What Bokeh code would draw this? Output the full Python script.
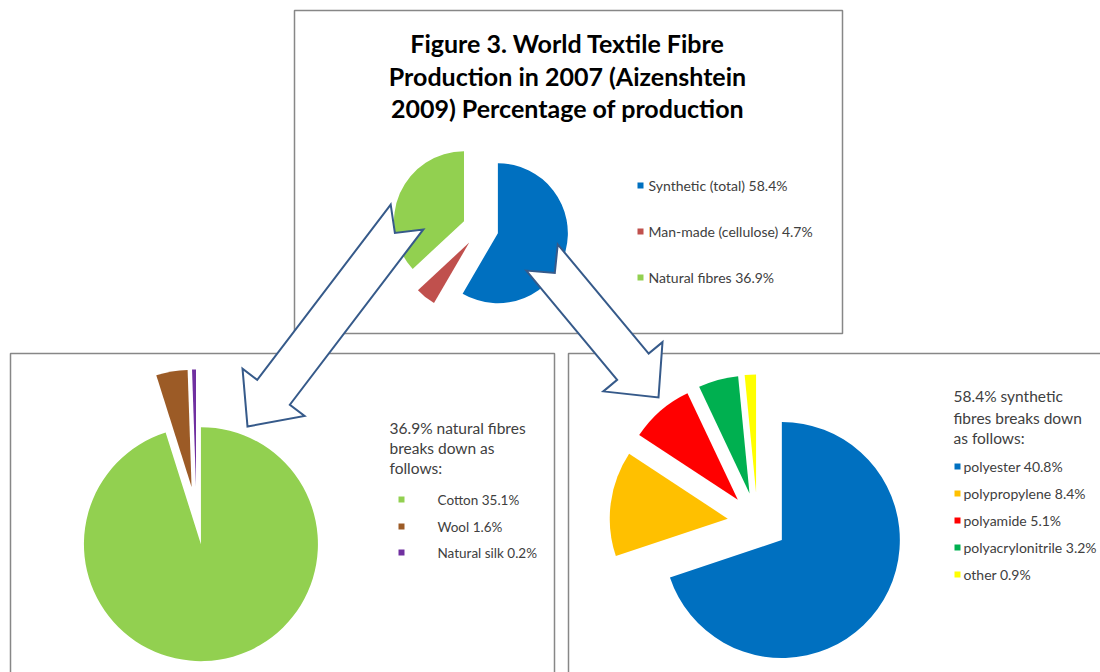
import math
from bokeh.plotting import figure
from bokeh.models import Range1d, ColumnDataSource
from bokeh.core.properties import value
from bokeh.embed import file_html
from bokeh.resources import INLINE

W, H = 1100, 672

# ---------------- data ----------------
title_lines = ["Figure 3. World Textile Fibre",
               "Production in 2007 (Aizenshtein",
               "2009) Percentage of production"]

top_names = ["Synthetic (total)", "Man-made (cellulose)", "Natural fibres"]
top_values = [58.4, 4.7, 36.9]
top_colors = ["#0070C0", "#C0504D", "#92D050"]

nat_header = ["36.9% natural fibres", "breaks down as", "follows:"]
nat_names = ["Cotton", "Wool", "Natural silk"]
nat_values = [35.1, 1.6, 0.2]
nat_colors = ["#92D050", "#9C5B26", "#7030A0"]

syn_header = ["58.4% synthetic", "fibres breaks down", "as follows:"]
syn_names = ["polyester", "polypropylene", "polyamide", "polyacrylonitrile", "other"]
syn_values = [40.8, 8.4, 5.1, 3.2, 0.9]
syn_colors = ["#0070C0", "#FFC000", "#FF0000", "#00B050", "#FFFF00"]

FONT = "Lato"
TXT = "#404040"

p = figure(width=W, height=H, x_range=Range1d(0, W), y_range=Range1d(0, H),
           output_backend="svg", toolbar_location=None,
           x_axis_location=None, y_axis_location=None, min_border=0)
p.grid.visible = False
p.outline_line_color = None
p.background_fill_color = "white"


def Y(sy):
    return H - sy


# ---------------- boxes ----------------
boxes = dict(left=[294, 10, 568], right=[842, 554, 1115],
             top=[Y(10), Y(353), Y(353)], bottom=[Y(333), Y(700), Y(700)])
p.quad(source=ColumnDataSource(boxes), left="left", right="right", top="top", bottom="bottom",
       fill_color="white", line_color="#878787", line_width=1.5)


# ---------------- pies ----------------
def pie(values, colors, cx, cy, r, explode):
    total = sum(values)
    cum = 0.0
    d = dict(x=[], y=[], s=[], e=[], c=[])
    for v, c in zip(values, colors):
        t1 = cum / total * 360.0
        t2 = (cum + v) / total * 360.0
        tm = math.radians((t1 + t2) / 2)
        d["x"].append(cx + explode * math.sin(tm))
        d["y"].append(Y(cy) + explode * math.cos(tm))
        d["s"].append(math.radians(90 - t1))
        d["e"].append(math.radians(90 - t2))
        d["c"].append(c)
        cum += v
    p.wedge(x="x", y="y", radius=r, start_angle="s", end_angle="e", direction="clock",
            fill_color="c", line_color=None, source=ColumnDataSource(d))


pie(top_values, top_colors, 480, 228, 70, 18)
pie(nat_values, nat_colors, 196, 515, 117, 29)
pie(syn_values, syn_colors, 757, 522, 118, 30)


# ---------------- text ----------------
def texts(xs, ys, strs, size, color=TXT, style="normal", align="left"):
    src = ColumnDataSource(dict(x=xs, y=[Y(v) for v in ys], t=strs))
    p.text(x="x", y="y", text="t", source=src, text_font=value(FONT),
           text_font_size=value(size), text_color=color, text_font_style=style,
           text_align=align, text_baseline="middle")


def legend(names, vals, colors, mx, tx, ys, msize, size):
    src = ColumnDataSource(dict(x=[mx] * len(ys), y=[Y(v) for v in ys], c=colors))
    p.rect(x="x", y="y", width=msize, height=msize, fill_color="c", line_color=None, source=src)
    texts([tx] * len(ys), ys, [f"{n} {v}%" for n, v in zip(names, vals)], size)


texts([567] * 3, [42, 75, 107], title_lines, "25px", color="black", style="bold", align="center")
legend(top_names, top_values, top_colors, 640, 648, [185, 231, 277], 6, "14px")

texts([389] * 3, [427, 447, 467], nat_header, "15.5px")
legend(nat_names, nat_values, nat_colors, 401, 437, [499, 526, 552], 6, "13.5px")

texts([953] * 3, [395, 417, 437], syn_header, "15.5px")
legend(syn_names, syn_values, syn_colors, 957, 963, [466, 493, 520, 547, 574], 6, "14px")


# ---------------- notched block arrows ----------------
def arrow(p0, p1, hw=20.5, hh=39, hl=42, nd=20):
    dx, dy = p1[0] - p0[0], p1[1] - p0[1]
    L = math.hypot(dx, dy)
    ux, uy = dx / L, dy / L
    nx, ny = -uy, ux
    b = (p0[0] + ux * (L - hl), p0[1] + uy * (L - hl))
    pts = [(p0[0] + nx * hw, p0[1] + ny * hw),
           (b[0] + nx * hw, b[1] + ny * hw),
           (b[0] + nx * hh, b[1] + ny * hh),
           p1,
           (b[0] - nx * hh, b[1] - ny * hh),
           (b[0] - nx * hw, b[1] - ny * hw),
           (p0[0] - nx * hw, p0[1] - ny * hw),
           (p0[0] + ux * nd, p0[1] + uy * nd)]
    p.patch([q[0] for q in pts], [Y(q[1]) for q in pts], fill_color="white",
            line_color="#365A8A", line_width=2, line_join="miter")


arrow((406.5, 216.5), (247, 426), hl=43)
arrow((541.5, 257), (658, 397), hh=38.5, hl=40)

open("out.html", "w").write(file_html(p, INLINE))
